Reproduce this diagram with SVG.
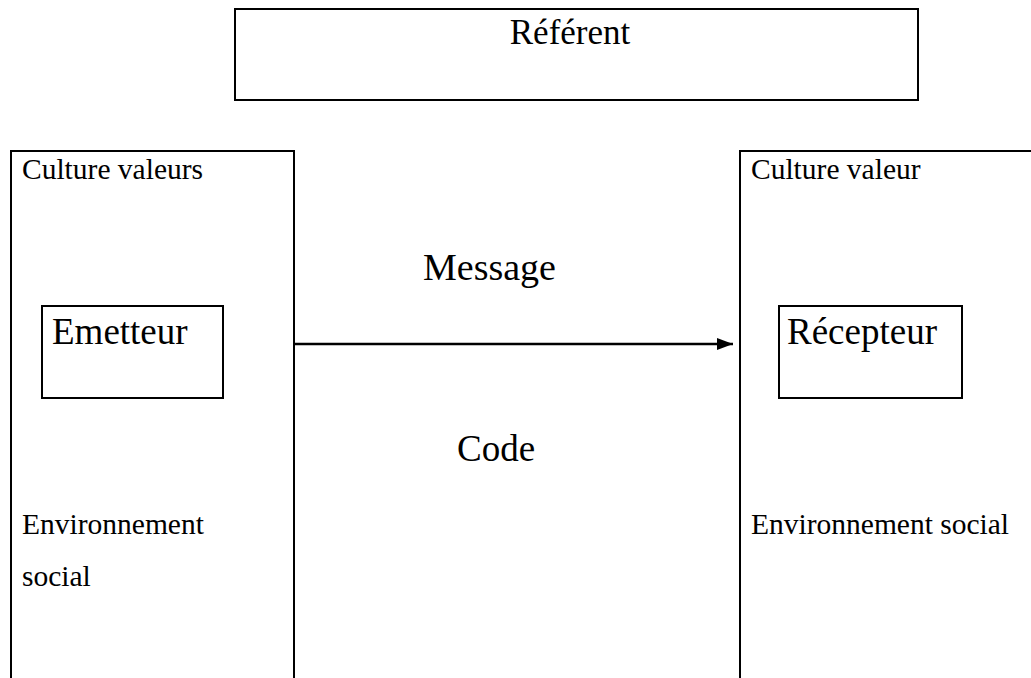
<svg xmlns="http://www.w3.org/2000/svg" width="1031" height="678" viewBox="0 0 1031 678">
<style>
.box{fill:none;stroke:#000;stroke-width:2}
.t{font-family:"Liberation Serif","Times New Roman",serif;fill:#000}
.s{font-size:29.5px}
.l{font-size:37px}
</style>
<defs>
<marker id="ah" markerWidth="16" markerHeight="12" refX="16" refY="6" orient="auto" markerUnits="userSpaceOnUse">
<path d="M0,0 L16,6 L0,12 Z" fill="#000"/>
</marker>
</defs>
<rect width="1031" height="678" fill="#fff"/>
<g id="referent">
<rect class="box" x="235" y="9" width="683" height="91"/>
<text class="t" font-size="35" x="570" y="44" text-anchor="middle">Référent</text>
</g>
<g id="emetteur-context">
<path class="box" d="M11,690 V151 H294 V690"/>
<text class="t s" x="22" y="179">Culture valeurs</text>
<text class="t s" x="22" y="534">Environnement</text>
<text class="t s" x="22" y="586">social</text>
</g>
<g id="emetteur">
<rect class="box" x="42" y="306" width="181" height="92"/>
<text class="t l" x="52" y="344">Emetteur</text>
</g>
<g id="recepteur-context">
<path class="box" d="M740,690 V151 H1040"/>
<text class="t s" x="751" y="179">Culture valeur</text>
<text class="t s" x="751" y="534">Environnement social</text>
</g>
<g id="recepteur">
<rect class="box" x="779" y="306" width="183" height="92"/>
<text class="t l" x="787" y="344">Récepteur</text>
</g>
<g id="connectors">
<line x1="295" y1="344" x2="733" y2="344" stroke="#000" stroke-width="2.5" marker-end="url(#ah)"/>
</g>
<g id="labels">
<text class="t" font-size="38" x="423" y="280">Message</text>
<text class="t l" x="457" y="461">Code</text>
</g>
</svg>
